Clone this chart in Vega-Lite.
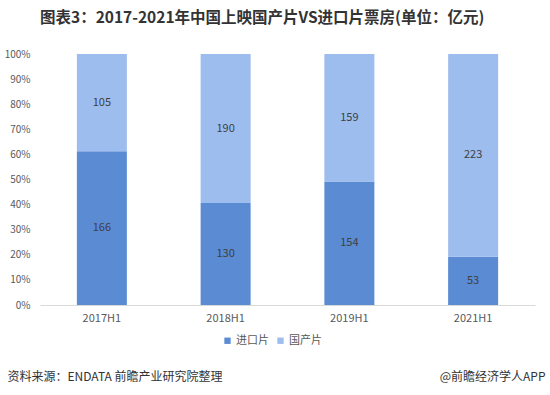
{
  "$schema": "https://vega.github.io/schema/vega-lite/v6.json",
  "width": 495,
  "height": 251,
  "autosize": {"type": "none"},
  "padding": {"left": 40, "top": 54, "right": 15, "bottom": 90},
  "background": "white",
  "config": {
    "font": "Noto Sans CJK SC",
    "view": {"stroke": null},
    "axisY": {"labelOverlap": false}
  },
  "title": {
    "text": "图表3：2017-2021年中国上映国产片VS进口片票房(单位：亿元)",
    "anchor": "start",
    "frame": "group",
    "fontSize": 15.5,
    "fontWeight": "bold",
    "color": "#333333",
    "offset": 23,
    "dx": 0
  },
  "data": {
    "values": [
      {"year": "2017H1", "type": "进口片", "ord": 1, "value": 166},
      {"year": "2017H1", "type": "国产片", "ord": 2, "value": 105},
      {"year": "2018H1", "type": "进口片", "ord": 1, "value": 130},
      {"year": "2018H1", "type": "国产片", "ord": 2, "value": 190},
      {"year": "2019H1", "type": "进口片", "ord": 1, "value": 154},
      {"year": "2019H1", "type": "国产片", "ord": 2, "value": 159},
      {"year": "2021H1", "type": "进口片", "ord": 1, "value": 53},
      {"year": "2021H1", "type": "国产片", "ord": 2, "value": 223}
    ]
  },
  "transform": [
    {"stack": "value", "groupby": ["year"], "sort": [{"field": "ord", "order": "ascending"}], "offset": "normalize", "as": ["v0", "v1"]},
    {"calculate": "(datum.v0 + datum.v1) / 2", "as": "mid"}
  ],
  "encoding": {
    "x": {
      "field": "year",
      "type": "nominal",
      "scale": {"paddingInner": 0.596, "paddingOuter": 0.298},
      "axis": {
        "labelAngle": 0,
        "ticks": false,
        "domainColor": "#d9d9d9",
        "labelColor": "#595959",
        "labelFontSize": 11,
        "labelPadding": 7,
        "title": "资料来源：ENDATA 前瞻产业研究院整理",
        "titleX": -33,
        "titleY": 71,
        "titleAlign": "left",
        "titleAnchor": "start",
        "titleBaseline": "middle",
        "titleFontSize": 12,
        "titleFontWeight": "normal",
        "titleColor": "#333333"
      }
    }
  },
  "layer": [
    {
      "mark": {"type": "bar"},
      "encoding": {
        "y": {
          "field": "v0",
          "type": "quantitative",
          "scale": {"domain": [0, 1]},
          "axis": {
            "values": [0, 0.1, 0.2, 0.3, 0.4, 0.5, 0.6, 0.7, 0.8, 0.9, 1],
            "format": ".0%",
            "labelOverlap": false,
            "grid": false,
            "ticks": false,
            "domain": false,
            "labelColor": "#595959",
            "labelFontSize": 10,
            "labelPadding": 10,
            "title": "@前瞻经济学人APP",
            "titleAngle": 0,
            "titleX": 505,
            "titleY": 322,
            "titleAlign": "right",
            "titleBaseline": "middle",
            "titleFontSize": 12,
            "titleFontWeight": "normal",
            "titleColor": "#333333"
          }
        },
        "y2": {"field": "v1"},
        "color": {
          "field": "type",
          "type": "nominal",
          "scale": {"domain": ["进口片", "国产片"], "range": ["#5A8BD3", "#9DBDEE"]},
          "legend": {
            "title": null,
            "orient": "none",
            "direction": "horizontal",
            "legendX": 182,
            "legendY": 281,
            "symbolType": "square",
            "symbolSize": 40,
            "symbolStrokeWidth": 0,
            "labelFontSize": 11,
            "labelColor": "#595959",
            "labelOffset": 3,
            "columnPadding": 6
          }
        }
      }
    },
    {
      "mark": {"type": "text", "fontSize": 11, "color": "#404040"},
      "encoding": {
        "y": {
          "field": "mid",
          "type": "quantitative",
          "axis": {
            "values": [0, 0.1, 0.2, 0.3, 0.4, 0.5, 0.6, 0.7, 0.8, 0.9, 1],
            "format": ".0%",
            "labelOverlap": false,
            "grid": false,
            "ticks": false,
            "domain": false,
            "labelColor": "#595959",
            "labelFontSize": 10,
            "labelPadding": 10,
            "title": "@前瞻经济学人APP",
            "titleAngle": 0,
            "titleX": 505,
            "titleY": 322,
            "titleAlign": "right",
            "titleBaseline": "middle",
            "titleFontSize": 12,
            "titleFontWeight": "normal",
            "titleColor": "#333333"
          }
        },
        "text": {"field": "value", "type": "quantitative"}
      }
    }
  ]
}
